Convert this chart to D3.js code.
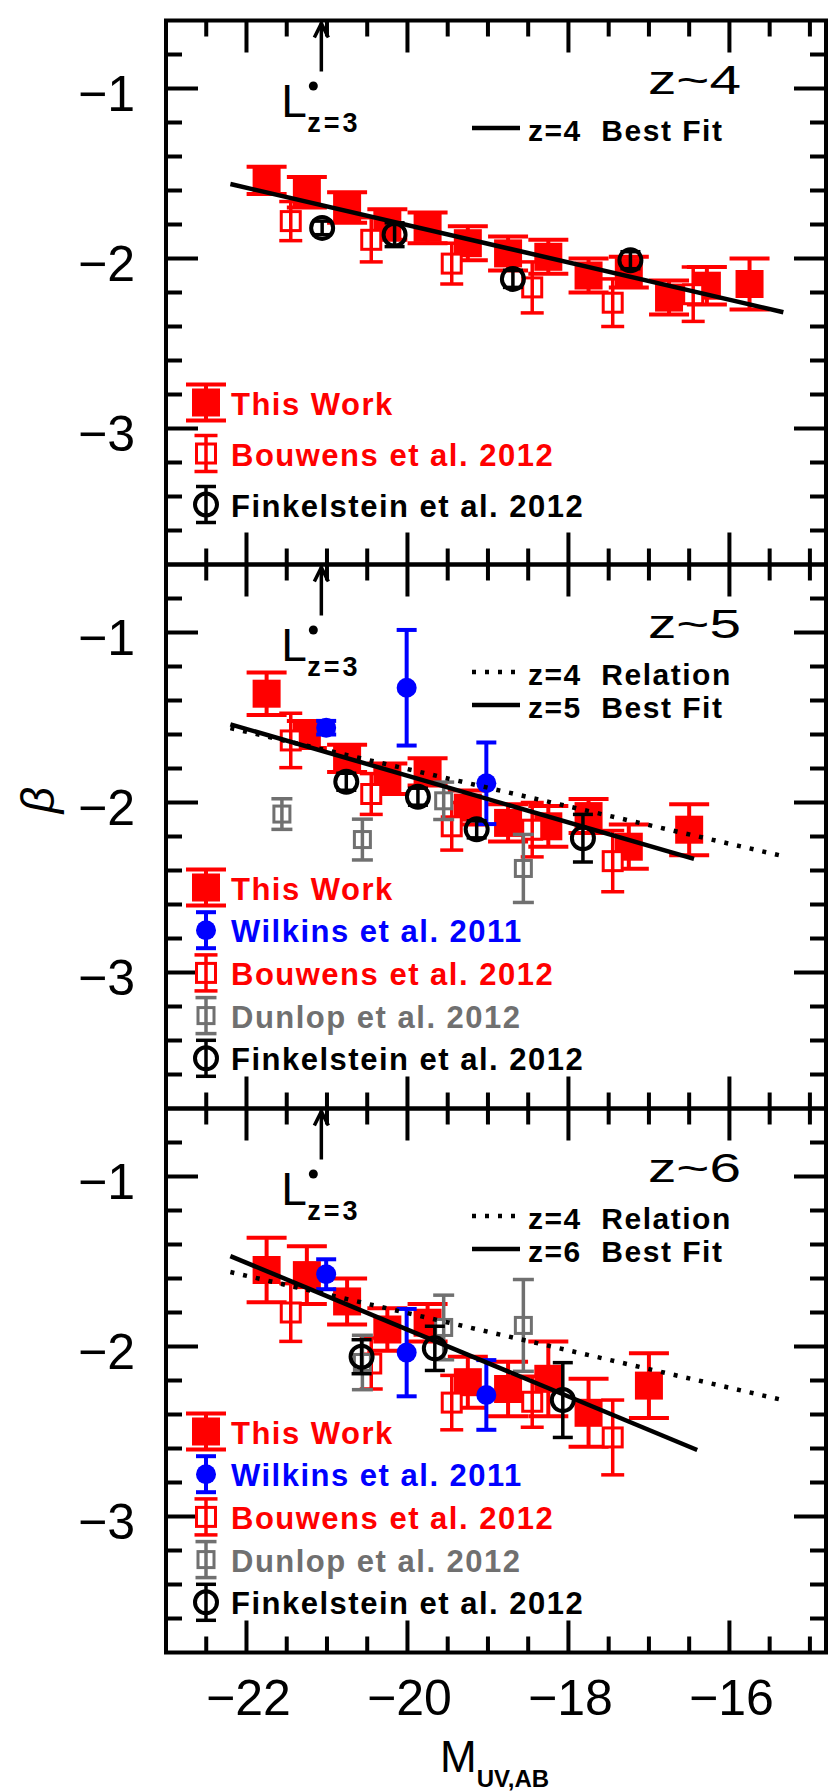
<!DOCTYPE html>
<html lang="en">
<head>
<meta charset="UTF-8">
<title>UV slope beta vs M_UV at z~4, 5, 6</title>
<script src="https://d3js.org/d3.v7.min.js"></script>
<style>
    body { margin: 0; background: #fff; }
    svg { display: block; }
    text { font-family: "Liberation Sans", Arial, sans-serif; }
</style>
</head>
<body>
<div id="chart"></div>
<script>
    // axis ticks
    const xTicks = [-22, -20, -18, -16];
    const yTicks = [-1, -2, -3];

    // z~4 : this work, Bouwens+12, Finkelstein+12, best fit
    const tw4M = [-21.75, -21.25, -20.75, -20.25, -19.75, -19.25, -18.75, -18.25, -17.75, -17.25, -16.75, -16.28, -15.75];
    const tw4B = [-1.54, -1.61, -1.70, -1.80, -1.82, -1.91, -1.97, -1.99, -2.10, -2.08, -2.23, -2.16, -2.15];
    const tw4E = [0.08, 0.09, 0.09, 0.09, 0.09, 0.10, 0.10, 0.10, 0.10, 0.09, 0.10, 0.11, 0.15];
    const bo4M = [-21.45, -20.45, -19.45, -18.45, -17.45, -16.45];
    const bo4B = [-1.78, -1.89, -2.03, -2.17, -2.26, -2.21];
    const bo4E = [0.115, 0.13, 0.12, 0.15, 0.14, 0.16];
    const fi4M = [-21.06, -20.16, -18.69, -17.23];
    const fi4B = [-1.82, -1.86, -2.12, -2.01];
    const fi4E = [0.04, 0.07, 0.05, 0.05];
    const fit4M = [-22.2, -15.33];
    const fit4B = [-1.562, -2.316];

    // z~5
    const tw5M = [-21.75, -21.25, -20.75, -20.25, -19.75, -19.25, -18.75, -18.25, -17.75, -17.25, -16.5];
    const tw5B = [-1.36, -1.60, -1.74, -1.86, -1.82, -2.03, -2.12, -2.14, -2.08, -2.26, -2.16];
    const tw5E = [0.125, 0.08, 0.08, 0.09, 0.08, 0.10, 0.11, 0.12, 0.10, 0.13, 0.15];
    const wi5M = [-21.01, -20.01, -19.02];
    const wi5B = [-1.56, -1.325, -1.887];
    const wi5E = [0.04, 0.34, 0.24];
    const bo5M = [-21.45, -20.45, -19.45, -18.45, -17.45];
    const bo5B = [-1.635, -1.95, -2.14, -2.16, -2.345];
    const bo5E = [0.16, 0.12, 0.14, 0.16, 0.18];
    const du5M = [-21.56, -20.56, -19.55, -18.56];
    const du5B = [-2.068, -2.218, -1.99, -2.388];
    const du5E = [0.09, 0.12, 0.11, 0.20];
    const fi5M = [-20.76, -19.87, -19.14, -17.82];
    const fi5B = [-1.878, -1.966, -2.158, -2.21];
    const fi5E = [0.05, 0.05, 0.05, 0.14];
    const fit5M = [-22.2, -16.44];
    const fit5B = [-1.54, -2.332];

    // z~6
    const tw6M = [-21.75, -21.25, -20.75, -20.25, -19.75, -19.25, -18.75, -18.25, -17.75, -17.0];
    const tw6B = [-1.55, -1.58, -1.735, -1.90, -1.86, -2.21, -2.25, -2.19, -2.39, -2.23];
    const tw6E = [0.19, 0.17, 0.135, 0.125, 0.11, 0.15, 0.16, 0.22, 0.20, 0.19];
    const wi6M = [-21.01, -20.01, -19.02];
    const wi6B = [-1.575, -2.036, -2.285];
    const wi6E = [0.088, 0.257, 0.205];
    const bo6M = [-21.45, -20.45, -19.45, -18.45, -17.45];
    const bo6B = [-1.80, -2.10, -2.33, -2.325, -2.535];
    const bo6E = [0.17, 0.15, 0.16, 0.15, 0.22];
    const du6M = [-20.56, -19.55, -18.56];
    const du6B = [-2.094, -1.888, -1.876];
    const du6E = [0.16, 0.19, 0.27];
    const fi6M = [-20.57, -19.66, -18.07];
    const fi6B = [-2.06, -2.011, -2.315];
    const fi6E = [0.10, 0.13, 0.22];
    const fit6M = [-22.2, -16.40];
    const fit6B = [-1.468, -2.609];

    // L*(z=3) in magnitudes
    const lstarM = -21.07;

    const names = {
        tw: "This Work",
        wi: "Wilkins et al. 2011",
        bo: "Bouwens et al. 2012",
        du: "Dunlop et al. 2012",
        fi: "Finkelstein et al. 2012"
    };
    const colors = { tw: "#ff0000", wi: "#0000ff", bo: "#ff0000", du: "#707070", fi: "#000000" };

    const pts = (M, B, E) => M.map((m, i) => ({ m: m, b: B[i], e: E ? E[i] : 0 }));

    const panels = [
        {
            label: "z~4",
            series: { tw: pts(tw4M, tw4B, tw4E), bo: pts(bo4M, bo4B, bo4E), fi: pts(fi4M, fi4B, fi4E) },
            lines: [{ dash: false, d: pts(fit4M, fit4B), name: "z=4  Best Fit" }],
            legend: ["tw", "bo", "fi"], legTop: 382, legStep: 51
        },
        {
            label: "z~5",
            series: { tw: pts(tw5M, tw5B, tw5E), bo: pts(bo5M, bo5B, bo5E), du: pts(du5M, du5B, du5E),
                      wi: pts(wi5M, wi5B, wi5E), fi: pts(fi5M, fi5B, fi5E) },
            lines: [{ dash: true, d: pts(fit4M, fit4B), name: "z=4  Relation" },
                    { dash: false, d: pts(fit5M, fit5B), name: "z=5  Best Fit" }],
            legend: ["tw", "wi", "bo", "du", "fi"], legTop: 323, legStep: 42.7
        },
        {
            label: "z~6",
            series: { tw: pts(tw6M, tw6B, tw6E), bo: pts(bo6M, bo6B, bo6E), du: pts(du6M, du6B, du6E),
                      wi: pts(wi6M, wi6B, wi6E), fi: pts(fi6M, fi6B, fi6E) },
            lines: [{ dash: true, d: pts(fit4M, fit4B), name: "z=4  Relation" },
                    { dash: false, d: pts(fit6M, fit6B), name: "z=6  Best Fit" }],
            legend: ["tw", "wi", "bo", "du", "fi"], legTop: 323, legStep: 42.7
        }
    ];

    // layout
    const plotL = 166, plotR = 826, firstTop = 20.5, panelH = 544;
    const majorLen = 32, minorLen = 16;

    const x = d3.scaleLinear().domain([-23, -14.8]).range([plotL, plotR]);

    const xMinor = d3.range(-45, -29).filter(v => v % 4 !== 0).map(v => v / 2);
    const yMinor = d3.range(4, 19).filter(v => v % 5 !== 0).map(v => -v / 5);

    const svg = d3.select("#chart").append("svg")
        .attr("width", 830)
        .attr("height", 1791);

    // draw one symbol with its error bar (pixel coords)
    function marker(g, key, cx, cy, ya, yb) {
        const c = colors[key];
        const bar = (lw, cap) => {
            g.append("line").attr("x1", cx).attr("x2", cx).attr("y1", ya).attr("y2", yb)
                .attr("stroke", c).attr("stroke-width", lw);
            [ya, yb].forEach(yy => g.append("line")
                .attr("x1", cx - cap / 2).attr("x2", cx + cap / 2).attr("y1", yy).attr("y2", yy)
                .attr("stroke", c).attr("stroke-width", lw));
        };
        if (key === "tw") {
            bar(4, 40);
            g.append("rect").attr("x", cx - 14).attr("y", cy - 14).attr("width", 28).attr("height", 28).attr("fill", c);
        } else if (key === "bo" || key === "du") {
            const s = key === "bo" ? 19 : 16;
            g.append("rect").attr("x", cx - s / 2).attr("y", cy - s / 2).attr("width", s).attr("height", s)
                .attr("fill", "#fff").attr("stroke", c).attr("stroke-width", 3);
            bar(3.5, key === "bo" ? 23 : 21);
        } else if (key === "wi") {
            bar(4, 20);
            g.append("circle").attr("cx", cx).attr("cy", cy).attr("r", 10).attr("fill", c);
        } else {
            bar(3.5, 20);
            g.append("circle").attr("cx", cx).attr("cy", cy).attr("r", 11)
                .attr("fill", "none").attr("stroke", c).attr("stroke-width", 4);
        }
    }

    // frame of one panel plus its inward ticks, as a single path
    function framePath(y, y0, y1) {
        const p = d3.path();
        p.rect(plotL, y0, plotR - plotL, y1 - y0);
        xTicks.map(v => [v, majorLen]).concat(xMinor.map(v => [v, minorLen])).forEach(([v, len]) => {
            p.moveTo(x(v), y0); p.lineTo(x(v), y0 + len);
            p.moveTo(x(v), y1); p.lineTo(x(v), y1 - len);
        });
        yTicks.map(v => [v, majorLen]).concat(yMinor.map(v => [v, minorLen])).forEach(([v, len]) => {
            p.moveTo(plotL, y(v)); p.lineTo(plotL + len, y(v));
            p.moveTo(plotR, y(v)); p.lineTo(plotR - len, y(v));
        });
        return p.toString();
    }

    const order = ["tw", "bo", "du", "wi", "fi"];

    panels.forEach((p, i) => {
        const y0 = firstTop + i * panelH;
        const y1 = y0 + panelH;
        const y = d3.scaleLinear().domain([-0.6, -3.8]).range([y0, y1]);
        const g = svg.append("g");

        // frame with ticks
        g.append("path")
            .attr("d", framePath(y, y0, y1))
            .attr("fill", "none")
            .attr("stroke", "#000")
            .attr("stroke-width", 4);

        // y tick labels
        g.selectAll(".ylab").data(yTicks).join("text")
            .attr("class", "ylab")
            .attr("x", 135)
            .attr("y", d => y(d) + 22)
            .attr("text-anchor", "end")
            .attr("font-size", 50)
            .text(d => d3.format("d")(d));

        // data
        order.forEach(key => {
            const data = p.series[key];
            if (!data) return;
            g.append("g").selectAll("g").data(data).join("g")
                .each(function (d) {
                    marker(d3.select(this), key, x(d.m), y(d.b), y(d.b + d.e), y(d.b - d.e));
                });
        });

        // relations
        const line = d3.line().x(d => x(d.m)).y(d => y(d.b));
        p.lines.forEach((l, j) => {
            g.append("path").datum(l.d)
                .attr("d", line)
                .attr("fill", "none")
                .attr("stroke", "#000")
                .attr("stroke-width", 4.5)
                .attr("stroke-dasharray", l.dash ? "4,9" : null);

            // top-right legend
            const ly = y0 + 107.5 + j * 33;
            g.append("line")
                .attr("x1", 472).attr("x2", 520).attr("y1", ly).attr("y2", ly)
                .attr("stroke", "#000").attr("stroke-width", 4.5)
                .attr("stroke-dasharray", l.dash ? "4,9" : null);
            g.append("text")
                .attr("x", 528).attr("y", ly + 13)
                .attr("font-size", 30).attr("font-weight", "bold")
                .attr("letter-spacing", 1.5)
                .style("white-space", "pre")
                .text(l.name);
        });

        // redshift label
        g.append("text")
            .attr("x", 741).attr("y", y0 + 73.5)
            .attr("text-anchor", "end")
            .attr("font-size", 40)
            .attr("textLength", 93).attr("lengthAdjust", "spacingAndGlyphs")
            .text(p.label);

        // L*(z=3) arrow
        const ax = x(lstarM);
        g.append("line").attr("x1", ax).attr("x2", ax).attr("y1", y0 + 2).attr("y2", y0 + 51)
            .attr("stroke", "#000").attr("stroke-width", 3.5);
        g.append("path")
            .attr("d", `M${ax - 7},${y0 + 17} L${ax},${y0 + 3} L${ax + 7},${y0 + 17}`)
            .attr("fill", "none").attr("stroke", "#000").attr("stroke-width", 3.5);
        g.append("text").attr("x", ax - 40).attr("y", y0 + 96.5).attr("font-size", 46).text("L");
        g.append("circle").attr("cx", ax - 8).attr("cy", y0 + 65.5).attr("r", 4.5).attr("fill", "#000");
        g.append("text").attr("x", ax - 14).attr("y", y0 + 111)
            .attr("font-size", 27).attr("font-weight", "bold").attr("letter-spacing", 3)
            .text("z=3");

        // bottom-left legend
        p.legend.forEach((key, j) => {
            const cy = y0 + p.legTop + j * p.legStep;
            marker(g.append("g"), key, 206, cy, cy - 18, cy + 18);
            g.append("text")
                .attr("x", 231).attr("y", cy + 12)
                .attr("font-size", 31).attr("font-weight", "bold")
                .attr("letter-spacing", 1.5)
                .attr("fill", colors[key])
                .text(names[key]);
        });
    });

    const bottomY = firstTop + 3 * panelH;

    // x tick labels
    svg.selectAll(".xlab").data(xTicks).join("text")
        .attr("class", "xlab")
        .attr("x", d => x(d) + 2)
        .attr("y", bottomY + 62)
        .attr("text-anchor", "middle")
        .attr("font-size", 50)
        .text(d => d3.format("d")(d));

    // axis titles
    svg.append("text")
        .attr("x", 440).attr("y", 1772)
        .attr("font-size", 44)
        .text("M")
        .append("tspan")
        .attr("dy", 15)
        .attr("font-size", 24)
        .attr("font-weight", "bold")
        .text("UV,AB");

    svg.append("text")
        .attr("transform", "translate(54,800) rotate(-90)")
        .attr("text-anchor", "middle")
        .attr("font-family", "DejaVu Sans")
        .attr("font-style", "italic")
        .attr("font-size", 46)
        .text("β");
</script>
</body>
</html>
